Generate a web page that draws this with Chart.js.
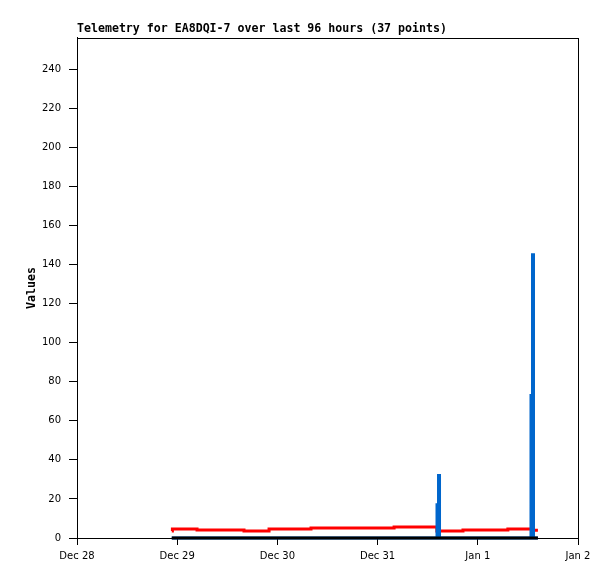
<!DOCTYPE html>
<html>
<head>
<meta charset="utf-8">
<script src="https://cdn.jsdelivr.net/npm/chart.js@4"></script>
<style>
  html, body { margin: 0; padding: 0; background: #fff; }
  #wrap { width: 615px; height: 579px; }
</style>
</head>
<body>
<div id="wrap"><canvas id="telemetryChart" width="615" height="579"></canvas></div>
<script>
// hours counted from Dec 28 00:00
const xTickHours = [0, 24, 48, 72, 96, 120];
const xTickLabels = ['Dec 28', 'Dec 29', 'Dec 30', 'Dec 31', 'Jan 1', 'Jan 2'];
const yTicks = [0, 20, 40, 60, 80, 100, 120, 140, 160, 180, 200, 220, 240];

const redHours = [22.7, 22.85, 28.75, 40.0, 46.0, 56.05, 75.95, 86.2, 92.45, 103.2, 109.05, 110.4];
const redValues = [3.6, 4.6, 4.1, 3.6, 4.6, 5.1, 5.6, 3.6, 4.1, 4.6, 4.0, 4.0];

const blueHours = [22.7, 86.23, 86.59, 86.83, 108.74, 109.1, 109.34, 110.4];
const blueValues = [0, 17, 32, 0, 73, 145, 0, 0];

const blackHours = [22.7, 110.4];
const blackValues = [0, 0];

function toPoints(hours, values) {
    return hours.map((h, i) => ({ x: h, y: values[i] }));
}

const boxPlugin = {
    id: 'box',
    afterDatasetsDraw(chart) {
        const a = chart.chartArea;
        const c = chart.ctx;
        c.save();
        c.strokeStyle = '#000';
        c.lineWidth = 1;
        c.strokeRect(Math.round(a.left) + 0.5, Math.round(a.top) + 0.5,
            Math.round(a.right) - Math.round(a.left), Math.round(a.bottom) - Math.round(a.top));
        c.restore();
    }
};

Chart.defaults.color = '#000';
Chart.defaults.font.family = 'DejaVu Sans';

new Chart(document.getElementById('telemetryChart'), {
    type: 'line',
    data: {
        datasets: [
            {
                label: 'black',
                data: toPoints(blackHours, blackValues),
                borderColor: '#000000',
                borderWidth: 3,
                stepped: 'before',
                pointRadius: 0,
                clip: false
            },
            {
                label: 'blue',
                data: toPoints(blueHours, blueValues),
                borderColor: '#0066cc',
                borderWidth: 3,
                stepped: 'before',
                pointRadius: 0,
                clip: false
            },
            {
                label: 'red',
                data: toPoints(redHours, redValues),
                borderColor: '#ff0000',
                borderWidth: 3,
                stepped: 'before',
                pointRadius: 0,
                clip: false
            }
        ]
    },
    options: {
        responsive: false,
        animation: false,
        layout: { padding: { left: 0, right: 37, top: 0, bottom: 0 } },
        plugins: {
            legend: { display: false },
            tooltip: { enabled: false },
            title: {
                display: true,
                text: 'Telemetry for EA8DQI-7 over last 96 hours (37 points)',
                align: 'start',
                fullSize: false,
                font: { family: 'DejaVu Sans Mono', size: 11.6, weight: 'bold', lineHeight: 1.2 },
                padding: { top: 22, bottom: 2 }
            }
        },
        scales: {
            x: {
                type: 'linear',
                min: 0,
                max: 120,
                afterBuildTicks: scale => {
                    scale.ticks = xTickHours.map(v => ({ value: v }));
                },
                afterFit: scale => { scale.height = 41; },
                ticks: {
                    autoSkip: false,
                    maxRotation: 0,
                    padding: 5,
                    font: { size: 10 },
                    callback: (v, i) => xTickLabels[i]
                },
                grid: {
                    drawOnChartArea: false,
                    drawTicks: true,
                    tickLength: 7,
                    color: '#000'
                },
                border: { display: true, color: '#000' }
            },
            y: {
                min: 0,
                max: 256,
                afterBuildTicks: scale => {
                    scale.ticks = yTicks.map(v => ({ value: v }));
                },
                afterFit: scale => { scale.width = 77; },
                ticks: {
                    padding: 8,
                    font: { size: 10 }
                },
                grid: {
                    drawOnChartArea: false,
                    drawTicks: true,
                    tickLength: 8,
                    color: '#000'
                },
                border: { display: true, color: '#000' },
                title: {
                    display: true,
                    text: 'Values',
                    font: { family: 'DejaVu Sans Mono', size: 11.6, weight: 'bold' },
                    padding: { top: 25, bottom: 0 }
                }
            }
        }
    },
    plugins: [boxPlugin]
});
</script>
</body>
</html>
